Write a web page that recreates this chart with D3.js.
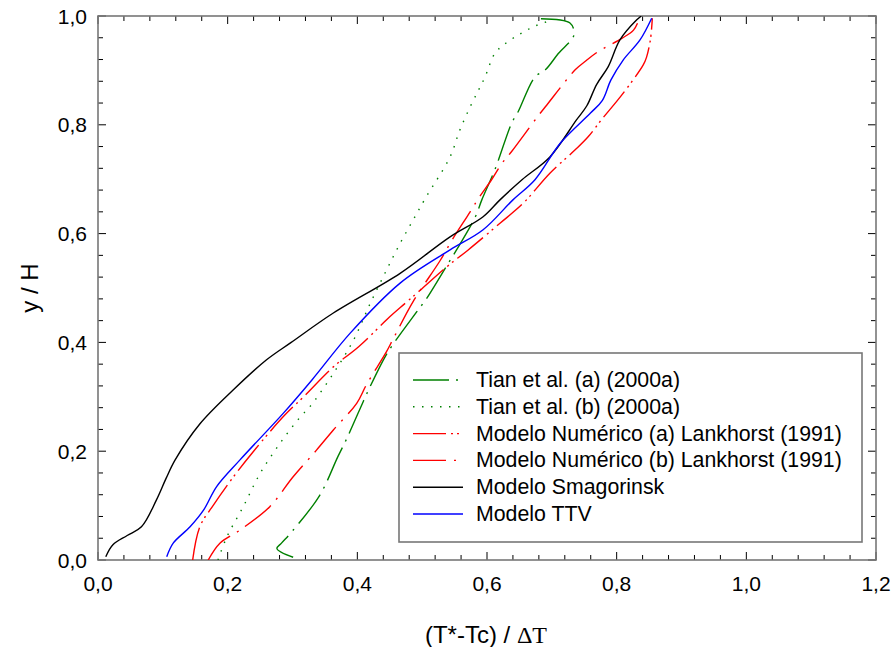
<!DOCTYPE html>
<html>
<head>
<meta charset="utf-8">
<script src="https://cdn.jsdelivr.net/npm/d3@7"></script>
<style>
  body { margin: 0; background: #fff; }
  text { font-family: Arial, "Liberation Sans", sans-serif; fill: #000; }
</style>
</head>
<body>
<svg id="chart" width="894" height="647"></svg>
<script>
const tianA = [[0.301,0.005],[0.276,0.021],[0.283,0.031],[0.299,0.052],[0.342,0.119],[0.37,0.19],[0.384,0.224],[0.409,0.291],[0.417,0.312],[0.443,0.374],[0.456,0.398],[0.494,0.46],[0.507,0.481],[0.54,0.545],[0.553,0.57],[0.582,0.631],[0.592,0.662],[0.612,0.717],[0.638,0.803],[0.648,0.824],[0.674,0.888],[0.69,0.901],[0.71,0.931],[0.734,0.965],[0.728,0.987],[0.674,0.995]];
const tianB = [[0.185,0.0],[0.199,0.043],[0.224,0.098],[0.25,0.159],[0.281,0.215],[0.312,0.263],[0.327,0.282],[0.363,0.343],[0.394,0.404],[0.42,0.472],[0.445,0.533],[0.466,0.582],[0.486,0.625],[0.505,0.665],[0.543,0.741],[0.558,0.79],[0.574,0.833],[0.587,0.864],[0.597,0.888],[0.612,0.931],[0.628,0.949],[0.651,0.967],[0.677,0.983],[0.702,0.993]];
const lankA = [[0.146,0.0],[0.157,0.061],[0.178,0.101],[0.209,0.153],[0.24,0.2],[0.287,0.265],[0.317,0.3],[0.363,0.355],[0.402,0.392],[0.45,0.447],[0.474,0.472],[0.497,0.496],[0.538,0.539],[0.571,0.57],[0.62,0.619],[0.656,0.656],[0.697,0.711],[0.736,0.754],[0.756,0.778],[0.777,0.81],[0.808,0.855],[0.841,0.91],[0.846,0.924],[0.852,0.956],[0.855,0.996]];
const lankB = [[0.17,0.0],[0.188,0.031],[0.219,0.055],[0.265,0.098],[0.301,0.153],[0.337,0.202],[0.363,0.239],[0.399,0.288],[0.414,0.322],[0.445,0.383],[0.456,0.408],[0.486,0.475],[0.528,0.551],[0.546,0.588],[0.574,0.64],[0.587,0.665],[0.607,0.699],[0.623,0.729],[0.638,0.751],[0.678,0.815],[0.692,0.836],[0.736,0.901],[0.754,0.919],[0.772,0.935],[0.808,0.959],[0.826,0.974],[0.836,0.998]];
const smag = [[0.012,0.006],[0.023,0.028],[0.045,0.045],[0.067,0.061],[0.09,0.11],[0.105,0.15],[0.119,0.184],[0.157,0.25],[0.208,0.312],[0.26,0.368],[0.298,0.4],[0.363,0.454],[0.466,0.527],[0.543,0.594],[0.594,0.631],[0.62,0.662],[0.654,0.699],[0.697,0.741],[0.738,0.809],[0.754,0.835],[0.769,0.874],[0.787,0.907],[0.805,0.956],[0.831,0.993],[0.838,1.0]];
const ttv = [[0.106,0.006],[0.116,0.031],[0.142,0.061],[0.163,0.092],[0.183,0.135],[0.219,0.184],[0.286,0.27],[0.33,0.331],[0.389,0.417],[0.466,0.509],[0.543,0.57],[0.594,0.607],[0.64,0.662],[0.674,0.699],[0.713,0.766],[0.76,0.822],[0.778,0.845],[0.791,0.882],[0.81,0.919],[0.836,0.956],[0.854,0.996]];

const seriesNames = ['Tian et al. (a) (2000a)', 'Tian et al. (b) (2000a)', 'Modelo Numérico (a) Lankhorst (1991)', 'Modelo Numérico (b) Lankhorst (1991)', 'Modelo Smagorinsk', 'Modelo TTV'];
const xTickLabels = ['0,0', '0,2', '0,4', '0,6', '0,8', '1,0', '1,2'];
const yTickLabels = ['0,0', '0,2', '0,4', '0,6', '0,8', '1,0'];

const series = [
  { name: seriesNames[0], data: tianA, color: '#008000', dash: '36,7,2,7' },
  { name: seriesNames[1], data: tianB, color: '#008000', dash: '1.5,7.5' },
  { name: seriesNames[2], data: lankA, color: '#ff0000', dash: '33,5,2,4,2,5' },
  { name: seriesNames[3], data: lankB, color: '#ff0000', dash: '33,8,2,8' },
  { name: seriesNames[4], data: smag, color: '#000000', dash: null },
  { name: seriesNames[5], data: ttv, color: '#0000ff', dash: null },
];

const L = 98, R = 876, T = 16, B = 560;
const svg = d3.select('#chart');
const x = d3.scaleLinear().domain([0, 1.2]).range([L, R]);
const y = d3.scaleLinear().domain([0, 1]).range([B, T]);

svg.append('clipPath').attr('id', 'clip')
  .append('rect').attr('x', L).attr('y', T).attr('width', R - L).attr('height', B - T);

// ticks every 0.04, labelled every 0.2
const xMinor = d3.range(0, 1.2001, 0.04);
const yMinor = d3.range(0, 1.0001, 0.04);
const isMajor = v => Math.abs(v / 0.2 - Math.round(v / 0.2)) < 1e-6;

const ticks = svg.append('g').attr('stroke', '#000').attr('stroke-width', 1);
xMinor.forEach(v => {
  const len = isMajor(v) ? 8 : 5;
  ticks.append('line').attr('x1', x(v)).attr('x2', x(v)).attr('y1', B).attr('y2', B - len);
  ticks.append('line').attr('x1', x(v)).attr('x2', x(v)).attr('y1', T).attr('y2', T + len);
});
yMinor.forEach(v => {
  const len = isMajor(v) ? 8 : 5;
  ticks.append('line').attr('y1', y(v)).attr('y2', y(v)).attr('x1', L).attr('x2', L + len);
  ticks.append('line').attr('y1', y(v)).attr('y2', y(v)).attr('x1', R).attr('x2', R - len);
});

svg.append('rect').attr('x', L).attr('y', T).attr('width', R - L).attr('height', B - T)
  .attr('fill', 'none').attr('stroke', '#777').attr('stroke-width', 1.6);

svg.append('g').selectAll('text').data(xTickLabels).join('text')
  .attr('x', (d, i) => x(i * 0.2)).attr('y', 583)
  .attr('text-anchor', 'middle').attr('dominant-baseline', 'central')
  .style('font-size', '21px').text(d => d);

svg.append('g').selectAll('text').data(yTickLabels).join('text')
  .attr('x', 87).attr('y', (d, i) => y(i * 0.2))
  .attr('text-anchor', 'end').attr('dominant-baseline', 'central')
  .style('font-size', '21px').text(d => d);

svg.append('text').attr('transform', 'translate(29,288) rotate(-90)')
  .attr('text-anchor', 'middle').attr('dominant-baseline', 'central')
  .style('font-size', '24px').text('y / H');

const xt = svg.append('text').attr('x', 486).attr('y', 643).attr('text-anchor', 'middle')
  .style('font-size', '24px');
xt.append('tspan').text('(T*-Tc) / ');
xt.append('tspan').style('font-family', '"Liberation Serif", "DejaVu Serif", serif').text('ΔT');

const line = d3.line().x(d => x(d[0])).y(d => y(d[1])).curve(d3.curveCatmullRom.alpha(0.5));

svg.append('g').attr('clip-path', 'url(#clip)').selectAll('path').data(series).join('path')
  .attr('d', d => line(d.data))
  .attr('fill', 'none')
  .attr('stroke', d => d.color)
  .attr('stroke-width', 1.4)
  .attr('stroke-dasharray', d => d.dash);

// legend
const lg = svg.append('g');
lg.append('rect').attr('x', 399).attr('y', 353).attr('width', 463).attr('height', 189)
  .attr('fill', '#fff').attr('stroke', '#777').attr('stroke-width', 1.6);
series.forEach((s, i) => {
  const ly = 380 + i * 26.8;
  lg.append('line').attr('x1', 413).attr('x2', 463).attr('y1', ly).attr('y2', ly)
    .attr('stroke', s.color).attr('stroke-width', 1.4).attr('stroke-dasharray', s.dash);
  lg.append('text').attr('x', 476).attr('y', ly).attr('dominant-baseline', 'central')
    .style('font-size', '21.3px').text(s.name);
});
</script>
</body>
</html>
